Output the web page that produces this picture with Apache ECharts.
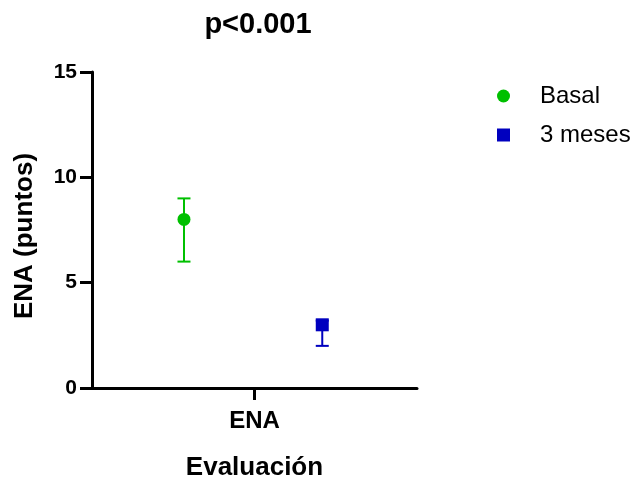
<!DOCTYPE html>
<html>
<head>
    <meta charset="utf-8" />
    <title></title>
    <script src="https://cdn.jsdelivr.net/npm/echarts@6/dist/echarts.min.js"></script>
</head>
<body style="margin:0">
    <div id="main" style="width:639px;height:481px"></div>
<script>
    // datos
    var categorias = ['ENA'];
    var grupos = ['Basal', '3 meses'];
    var media = [8, 3];
    var inferior = [6, 2];
    var superior = [9, 3.2];
    var colores = ['#00c000', '#0000bf'];
    var simbolos = ['circle', 'rect'];
    var desplaz = [-0.434, 0.417]; // desplazamiento dentro de la categoria

    var font = 'Arial, "Liberation Sans", sans-serif';

    function renderItem(params, api) {
        var i = params.seriesIndex;
        var cat = api.value(0) + desplaz[i];
        var c = api.coord([cat, api.value(1)]);
        var lo = api.coord([cat, api.value(2)]);
        var hi = api.coord([cat, api.value(3)]);
        var x = c[0];
        var cap = 6.5, r = 6.5;
        var st = { stroke: colores[i], lineWidth: 2 };
        var children = [
            { type: 'line', shape: { x1: x, y1: lo[1], x2: x, y2: hi[1] }, style: st },
            { type: 'line', shape: { x1: x - cap, y1: lo[1], x2: x + cap, y2: lo[1] }, style: st },
            { type: 'line', shape: { x1: x - cap, y1: hi[1], x2: x + cap, y2: hi[1] }, style: st }
        ];
        if (simbolos[i] === 'circle') {
            children.push({ type: 'circle', shape: { cx: x, cy: c[1], r: r }, style: { fill: colores[i] } });
        } else {
            children.push({ type: 'rect', shape: { x: x - r, y: c[1] - r, width: 2 * r, height: 2 * r }, style: { fill: colores[i] } });
        }
        return { type: 'group', children: children };
    }

    var series = grupos.map(function (g, i) {
        return {
            name: g,
            type: 'custom',
            renderItem: renderItem,
            itemStyle: { color: colores[i] },
            encode: { x: 0, y: 1 },
            data: [[0, media[i], inferior[i], superior[i]]]
        };
    });

    var chart = echarts.init(document.getElementById('main'));
    chart.setOption({
        animation: false,
        title: {
            text: 'p<0.001',
            left: 253, top: 5, textAlign: 'center',
            textStyle: { fontFamily: font, fontSize: 29, fontWeight: 'bold', color: '#000' }
        },
        legend: {
            orient: 'vertical',
            left: 492, top: 79,
            itemWidth: 13, itemHeight: 13, itemGap: 15,
            data: [{ name: 'Basal', icon: 'circle' }, { name: '3 meses', icon: 'rect' }],
            textStyle: { fontFamily: font, fontSize: 24, color: '#000', padding: [0, 0, 0, 25] }
        },
        grid: { left: 92, right: 222, top: 72, bottom: 93, outerBoundsMode: 'none', containLabel: false },
        xAxis: {
            type: 'value',
            min: -1, max: 1,
            name: 'Evaluación',
            nameLocation: 'middle',
            nameGap: 67,
            nameTextStyle: { fontFamily: font, fontSize: 26, fontWeight: 'bold', color: '#000' },
            axisLine: { onZero: false, lineStyle: { color: '#000', width: 3 } },
            axisTick: { show: true, customValues: [0], length: 12, lineStyle: { width: 3, color: '#000' } },
            axisLabel: {
                customValues: [0], margin: 21,
                formatter: function (v) { return categorias[Math.round(v)] || ''; },
                fontFamily: font, fontSize: 24, fontWeight: 'bold', color: '#000'
            },
            splitLine: { show: false }
        },
        yAxis: {
            type: 'value',
            min: 0, max: 15, interval: 5,
            name: 'ENA (puntos)',
            nameLocation: 'middle',
            nameGap: 54,
            nameTextStyle: { fontFamily: font, fontSize: 26, fontWeight: 'bold', color: '#000', padding: [0, 12, 0, 0] },
            axisLine: { show: true, onZero: false, lineStyle: { color: '#000', width: 3 } },
            axisTick: { show: true, inside: false, length: 12, lineStyle: { width: 3, color: '#000' } },
            axisLabel: { margin: 15, fontFamily: font, fontSize: 21, fontWeight: 'bold', color: '#000' },
            splitLine: { show: false }
        },
        series: series
    });
</script>
</body>
</html>
